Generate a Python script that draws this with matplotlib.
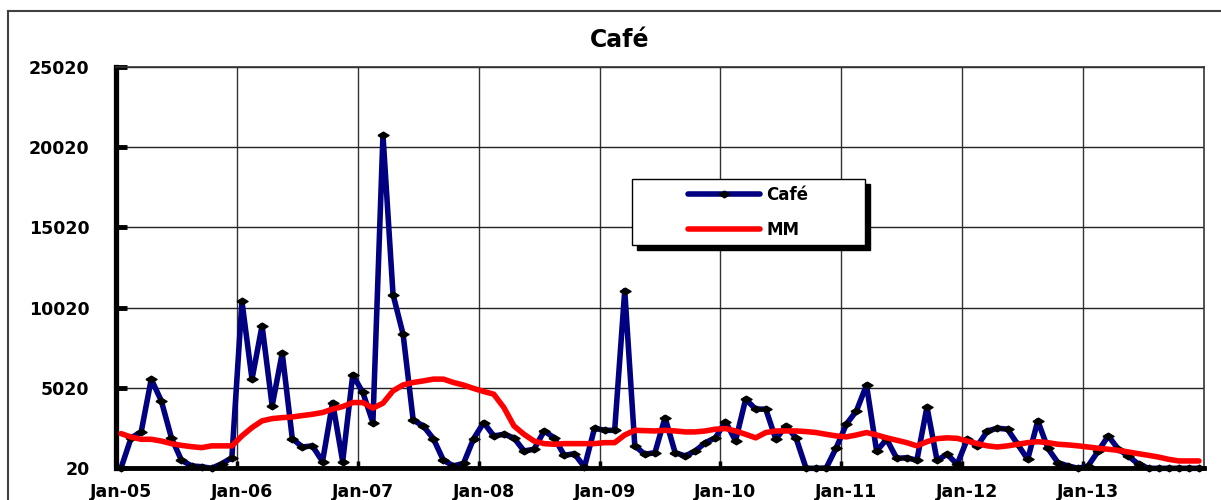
import matplotlib
matplotlib.use("Agg")
import matplotlib.pyplot as plt
import matplotlib.transforms as mtransforms
from matplotlib.patches import Rectangle
from matplotlib.lines import Line2D
import numpy as np

# données mensuelles (janv. 2005 -> déc. 2013)
cafe = [20, 1900, 2270, 5560, 4200, 1900, 500, 150, 100, 0, 290, 660,
        10410, 5560, 8900, 3900, 7190, 1850, 1330, 1400, 420, 4100, 420, 5830,
        4730, 2850, 20770, 10830, 8350, 3000, 2645, 1850, 500, 150, 310, 1850,
        2850, 2020, 2120, 1900, 1080, 1190, 2330, 1900, 810, 910, 80, 2500,
        2370, 2370, 11080, 1400, 875, 980, 3160, 980, 770, 1080, 1600, 1900,
        2915, 1710, 4310, 3690, 3690, 1810, 2645, 1900, 0, 0, 20, 1290,
        2750, 3580, 5190, 1080, 1810, 620, 660, 500, 3830, 500, 875, 250,
        1810, 1400, 2330, 2500, 2440, 1500, 560, 2960, 1250, 350, 150, 0,
        150, 1080, 2020, 1190, 770, 250, 0, 0, 0, 0, 0, 0]
mm = [2165, 1950, 1810, 1810, 1700, 1540, 1430, 1350, 1290, 1400, 1400, 1400,
      2020, 2540, 2960, 3100, 3160, 3200, 3290, 3370, 3480, 3690, 3850, 4100,
      4100, 3750, 4060, 4830, 5200, 5350, 5450, 5560, 5560, 5350, 5190, 4980,
      4790, 4620, 3790, 2645, 2120, 1700, 1540, 1500, 1540, 1540, 1540, 1540,
      1600, 1600, 2080, 2370, 2350, 2330, 2370, 2330, 2270, 2270, 2330, 2440,
      2480, 2330, 2120, 1900, 2230, 2330, 2330, 2330, 2290, 2230, 2120, 2020,
      1960, 2080, 2230, 2080, 1900, 1750, 1600, 1400, 1660, 1850, 1900, 1870,
      1700, 1540, 1400, 1330, 1400, 1500, 1600, 1660, 1600, 1500, 1460, 1400,
      1330, 1250, 1190, 1120, 1020, 910, 810, 700, 560, 460, 460, 460]
annees = ["Jan-05", "Jan-06", "Jan-07", "Jan-08", "Jan-09",
          "Jan-10", "Jan-11", "Jan-12", "Jan-13"]
yticks = [20, 5020, 10020, 15020, 20020, 25020]

plt.rcParams['font.family'] = ['DejaVu Sans']
plt.rcParams['font.weight'] = 'bold'

fig = plt.figure(figsize=(12.21, 5.0), dpi=100)
ax = fig.add_axes([116 / 1221, 32 / 500, 1088 / 1221, 401 / 500])

x = np.arange(len(cafe)) + 0.5
losange = [(-1, 0), (0, 0.6), (1, 0), (0, -0.6), (-1, 0)]

ax.plot(x, cafe, color='#000080', lw=4, marker=losange, markersize=8,
        markerfacecolor='black', markeredgecolor='black', label='Café',
        clip_on=False, zorder=3, solid_capstyle='round')
ax.plot(x, mm, color='#ff0000', lw=4, label='MM', clip_on=False, zorder=4,
        solid_capstyle='round')

ax.set_xlim(0, 108)
ax.set_ylim(20, 25020)
ax.set_yticks(yticks)
ax.set_yticklabels([str(v) for v in yticks])
ax.set_xticks(np.arange(len(annees)) * 12 + 0.5)
ax.set_xticklabels(annees)
ax.set_xticks(np.arange(1, 9) * 12, minor=True)

ax.grid(True, axis='y', which='major', color='#222222', lw=1)
ax.grid(True, axis='x', which='minor', color='#333333', lw=1)
ax.set_axisbelow(True)

ax.tick_params(axis='y', direction='in', length=8, width=3.5, pad=19,
               labelsize=12.5, colors='black')
ax.tick_params(axis='x', which='major', length=0, pad=10.5, labelsize=12.5)
ax.tick_params(axis='x', which='minor', direction='in', length=5, width=2.5)

for lab in ax.get_xticklabels() + ax.get_yticklabels():
    lab.set_fontweight('bold')

ax.spines['left'].set_linewidth(3.8)
ax.spines['bottom'].set_linewidth(3.5)
ax.spines['bottom'].set_zorder(5)
for s in ['top', 'right']:
    ax.spines[s].set_linewidth(1.2)
    ax.spines[s].set_color('#333333')

# cadre de la légende avec ombre noire
cadre = (0.474, 0.555, 0.214, 0.165)
decal = mtransforms.ScaledTranslation(5 / 100, -5 / 100, fig.dpi_scale_trans)
ax.add_patch(Rectangle(cadre[:2], cadre[2], cadre[3], transform=ax.transAxes + decal,
                       facecolor='black', edgecolor='black', zorder=6))
ax.add_patch(Rectangle(cadre[:2], cadre[2], cadre[3], transform=ax.transAxes,
                       facecolor='white', edgecolor='black', lw=1, zorder=7))
leg = ax.legend(loc='center', bbox_to_anchor=(cadre[0] + cadre[2] / 2, cadre[1] + cadre[3] / 2),
                frameon=False, handlelength=4.3, handletextpad=0.4, labelspacing=1.0,
                prop={'size': 12, 'weight': 'bold'})
leg.set_zorder(8)

fig.text(620 / 1221, 1 - 47 / 500, 'Café', ha='center', va='baseline',
         fontsize=17, fontweight='bold')

# bordure de la zone du graphique
fig.add_artist(Line2D([8 / 1221, 1], [1 - 11 / 500, 1 - 11 / 500], color='#404040', lw=1.5))
fig.add_artist(Line2D([8 / 1221, 8 / 1221], [0, 1 - 11 / 500], color='#404040', lw=1.5))

fig.savefig('out.png', dpi=100)
